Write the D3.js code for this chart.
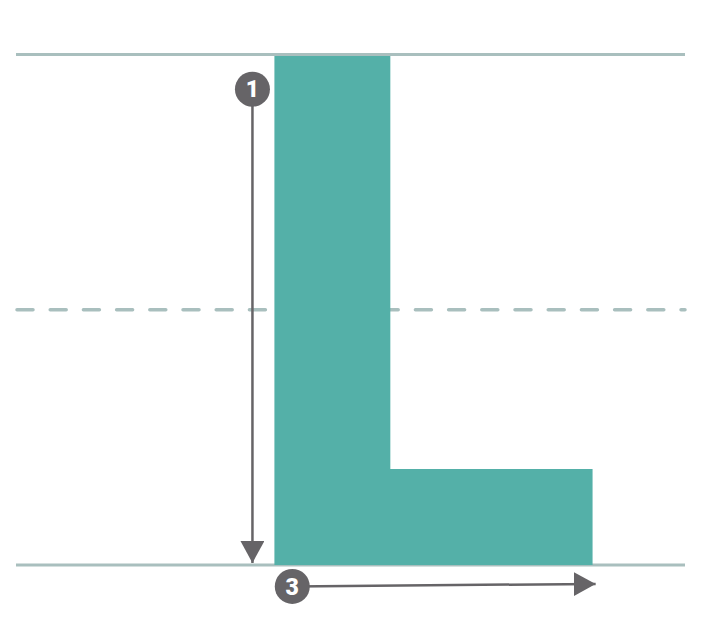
<!DOCTYPE html>
<html lang="en">
<head>
  <meta charset="utf-8">
  <title>Letter L stroke guide</title>
  <script src="https://d3js.org/d3.v7.min.js"></script>
  <style>
    body { margin: 0; background: #fff; }
  </style>
</head>
<body>
  <div id="chart"></div>
  <script>
    // guide lines, in letter units (baseline 0, capline 1000)
    var guideLevels = [1000, 0];
    var midLevel = [500];
    var guideSpan = [0, 1310];

    // outline of the L, in letter units
    var letterShape = [[506, 997], [733, 997], [733, 188], [1129, 188], [1129, 0], [506, 0]];

    // stroke order arrows: label, start point, end point
    var strokeLabels = ["1", "3"];
    var strokeStarts = [[463, 932], [541, -42]];
    var strokeEnds = [[463, 4], [1135, -37]];

    var w = 704, h = 618;
    var svg = d3.select("#chart").append("svg").attr("width", w).attr("height", h);

    var x = d3.scaleLinear().domain([0, 1310]).range([16, 685]);
    var y = d3.scaleLinear().domain([0, 1000]).range([565, 54.5]);

    var guideColor = "#a9bfbe";
    var inkColor = "#666467";

    svg.append("defs").append("marker")
      .attr("id", "head")
      .attr("markerUnits", "userSpaceOnUse")
      .attr("viewBox", "0 0 22 24")
      .attr("refX", 22).attr("refY", 12)
      .attr("markerWidth", 22).attr("markerHeight", 24)
      .attr("orient", "auto")
      .append("path")
      .attr("d", "M0,0L22,12L0,24Z")
      .attr("fill", inkColor);

    // solid capline and baseline
    svg.selectAll(".guide").data(guideLevels).enter().append("line")
      .attr("class", "guide")
      .attr("x1", x(guideSpan[0])).attr("x2", x(guideSpan[1]))
      .attr("y1", function(d) { return y(d); }).attr("y2", function(d) { return y(d); })
      .attr("stroke", guideColor).attr("stroke-width", 3);

    // dashed midline
    svg.selectAll(".mid").data(midLevel).enter().append("line")
      .attr("class", "mid")
      .attr("x1", x(guideSpan[0]) + 1).attr("x2", x(guideSpan[1]))
      .attr("y1", function(d) { return y(d); }).attr("y2", function(d) { return y(d); })
      .attr("stroke", guideColor).attr("stroke-width", 3.5)
      .attr("stroke-linecap", "round")
      .attr("stroke-dasharray", "16,17.2");

    // the letter
    var line = d3.line().x(function(d) { return x(d[0]); }).y(function(d) { return y(d[1]); });
    svg.append("path")
      .attr("d", line(letterShape) + "Z")
      .attr("fill", "#54b0a8");

    // arrows
    strokeLabels.forEach(function(lbl, i) {
      var s = strokeStarts[i], e = strokeEnds[i];
      svg.append("line")
        .attr("x1", x(s[0])).attr("y1", y(s[1]))
        .attr("x2", x(e[0])).attr("y2", y(e[1]))
        .attr("stroke", inkColor).attr("stroke-width", 2.5)
        .attr("marker-end", "url(#head)");
      svg.append("circle")
        .attr("cx", x(s[0])).attr("cy", y(s[1])).attr("r", 17.5)
        .attr("fill", inkColor);
      svg.append("text")
        .attr("x", x(s[0])).attr("y", y(s[1]))
        .attr("dy", "0.36em")
        .attr("text-anchor", "middle")
        .attr("font-family", "Roboto, sans-serif")
        .attr("font-weight", "900")
        .attr("font-size", 23)
        .attr("fill", "#fff")
        .text(lbl);
    });
  </script>
</body>
</html>
